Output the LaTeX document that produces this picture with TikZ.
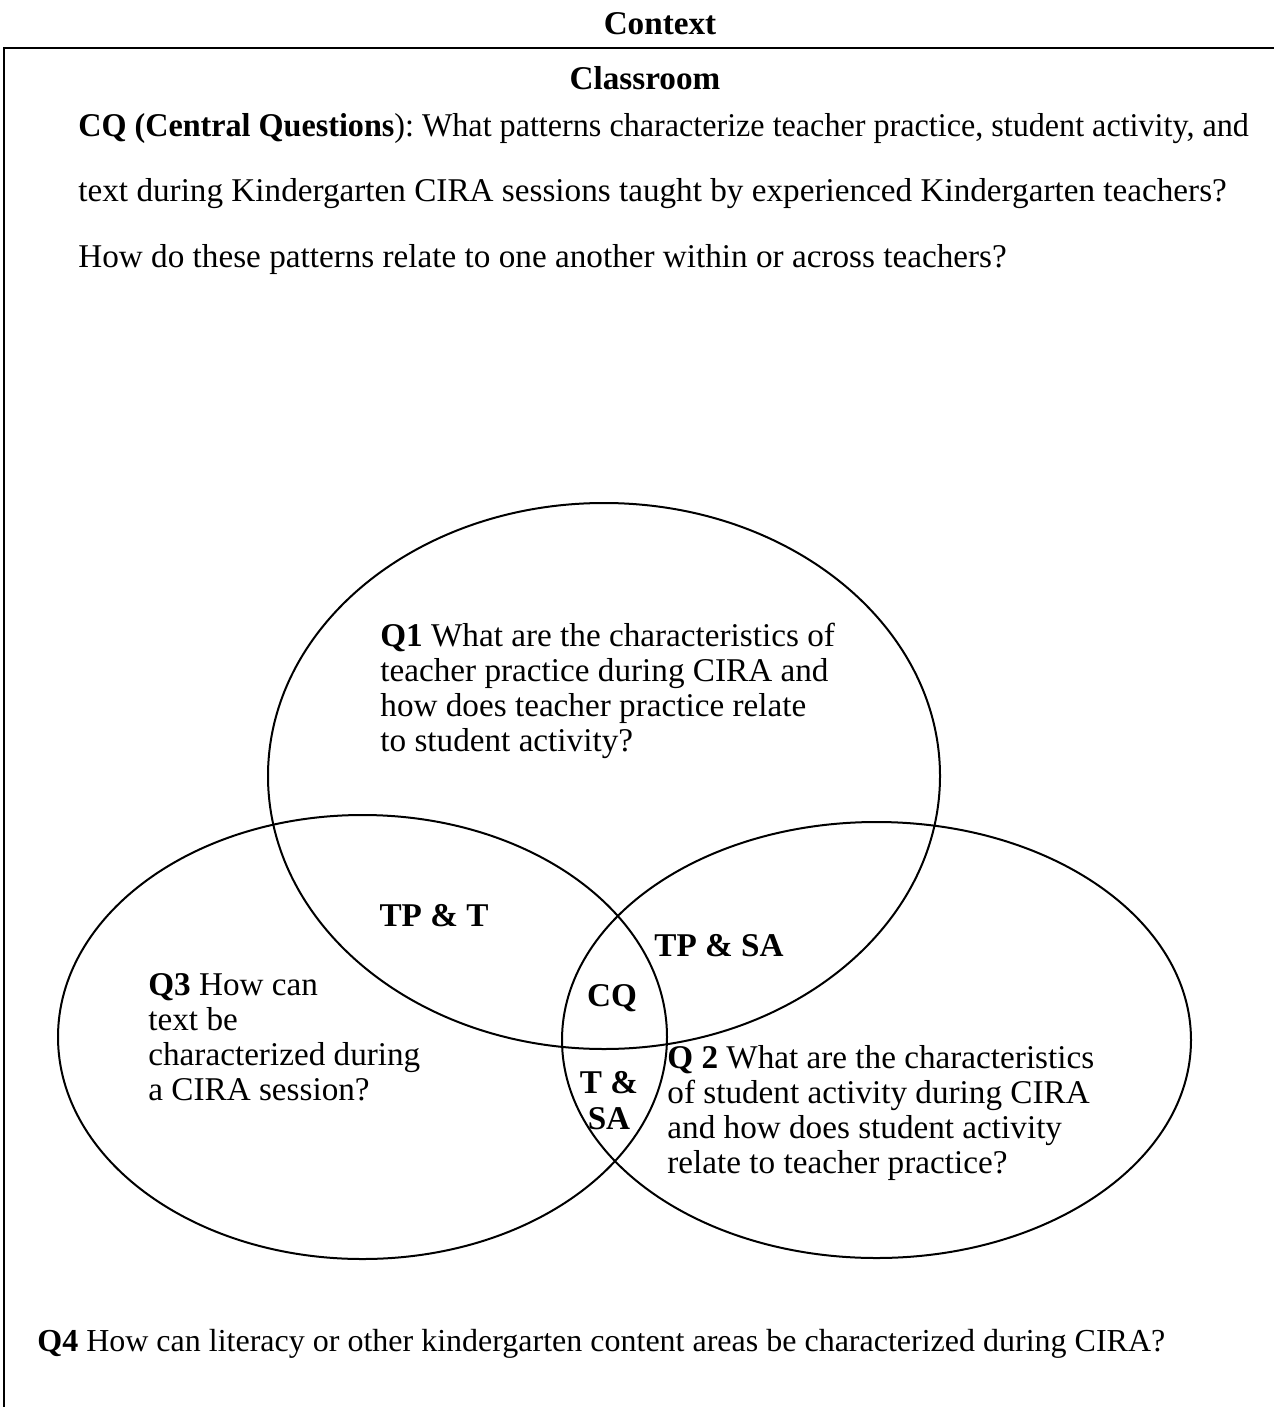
\documentclass[tikz,border=0pt]{standalone}
\usepackage{fontspec}
\setmainfont{Liberation Serif}
\usetikzlibrary{shapes.geometric}
\frenchspacing

\begin{document}
\begin{tikzpicture}[x=0.5pt, y=-0.5pt,
			set/.append style={shape=ellipse,
				draw=black,
				line width=1pt,
			inner sep=0, outer sep=0},
			txt/.style ={anchor=base west, inner sep=0, align=left, font=\fontsize{16.6}{17.5}\selectfont},
			lbl/.style ={anchor=base, inner sep=0, align=center, font=\fontsize{16.6}{18}\selectfont\bfseries}]
			
			\useasboundingbox (0,0) rectangle (1274,1407);
			\draw[line width=1pt] (3,48) -- (1274,48);
			\draw[line width=1pt] (4,48) -- (4,1407);
			
			\node[lbl] at (660, 35) (context){Context};
			\node[lbl] at (645, 90) (classroom){Classroom};
			\node[txt, font=\fontsize{16.6}{33}\selectfont] at (78, 268) (cq){\scalebox{0.968}[1]{\textbf{CQ (Central Questions}): What patterns characterize teacher practice, student activity, and}\\
				text during Kindergarten CIRA sessions taught by experienced Kindergarten teachers?\\
				How do these patterns relate to one another within or across teachers?};
			
			\node[set, minimum width=336pt, minimum height=273pt] at (604, 776) (TP){};
			\node[set, minimum width=304.5pt, minimum height=222pt] at (362.5, 1037) (T){};
			\node[set, minimum width=314.5pt, minimum height=218pt] at (876.5, 1040) (SA){};
			
			\node[txt] at (380, 751) (q1){\textbf{Q1} What are the characteristics of\\ teacher practice during CIRA and\\ how does teacher practice relate\\ to student activity?};
			\node[txt] at (667, 1173) (q2){\textbf{Q 2} What are the characteristics\\ of student activity during CIRA\\ and how does student activity\\ relate to teacher practice?};
			\node[txt] at (148, 1100) (q3){\textbf{Q3} How can\\ text be\\ characterized during\\ a CIRA session?};
			\node[txt, font=\fontsize{16}{17.5}\selectfont] at (37, 1351) (q4){\textbf{Q4} How can literacy or other kindergarten content areas be characterized during CIRA?};
			
			\node[lbl] at (434, 926) (tpt){TP \& T};
			\node[lbl] at (719, 956) (tpsa){TP \& SA};
			\node[lbl] at (612, 1006) (all){CQ};
			\node[lbl] at (609, 1129) (tsa){T \&\\SA};
		\end{tikzpicture}
\end{document}
